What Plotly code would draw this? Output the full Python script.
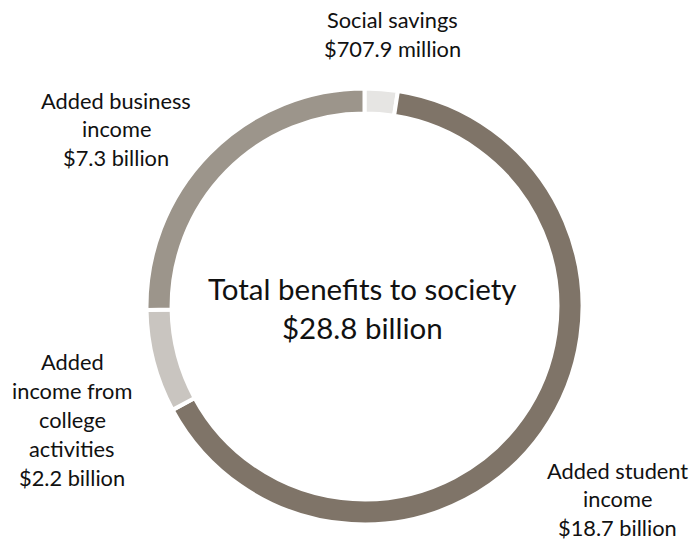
import plotly.graph_objects as go

# Benefit components (billions of dollars), clockwise from the top
labels = ["Social savings", "Added student income",
          "Added income from college activities", "Added business income"]
values = [0.7079, 18.7, 2.2, 7.3]
colors = ["#e6e5e3", "#7f7468", "#c9c5c0", "#9c958b"]

# Label text blocks drawn around the ring
label_lines = {
    "Social savings": ["Social savings", "$707.9 million"],
    "Added business income": ["Added business", "income", "$7.3 billion"],
    "Added income from college activities": ["Added", "income from", "college",
                                             "activities", "$2.2 billion"],
    "Added student income": ["Added student", "income", "$18.7 billion"],
}
center_lines = ["Total benefits to society", "$28.8 billion"]

W, H = 692, 544
cx, cy, r = 364.5, 306.5, 218.0

fig = go.Figure(go.Pie(
    labels=labels,
    values=values,
    hole=0.885,
    sort=False,
    direction="clockwise",
    rotation=0,
    textinfo="none",
    hoverinfo="label+value",
    marker=dict(colors=colors, line=dict(color="white", width=4)),
    domain=dict(x=[(cx - r) / W, (cx + r) / W],
                y=[1 - (cy + r) / H, 1 - (cy - r) / H]),
    showlegend=False,
))

FONT = "Lato"
annotations = []


def add_block(lines, x, y_first, step, size):
    for i, line in enumerate(lines):
        annotations.append(dict(
            x=x / W, y=1 - (y_first + i * step) / H, xref="paper", yref="paper",
            text=line, showarrow=False, xanchor="center", yanchor="middle",
            font=dict(family=FONT, size=size, color="#111111"),
        ))


add_block(label_lines["Social savings"], 392, 20, 28.5, 21.8)
add_block(label_lines["Added business income"], 116, 100, 28.5, 21.8)
add_block(label_lines["Added income from college activities"], 72, 361, 29.2, 21.8)
add_block(label_lines["Added student income"], 617, 470, 28.5, 21.8)
add_block(center_lines, 362, 288, 39, 29.5)

fig.update_layout(
    width=W, height=H,
    margin=dict(l=0, r=0, t=0, b=0),
    paper_bgcolor="white",
    plot_bgcolor="white",
    annotations=annotations,
)

fig.write_html("out.html")
